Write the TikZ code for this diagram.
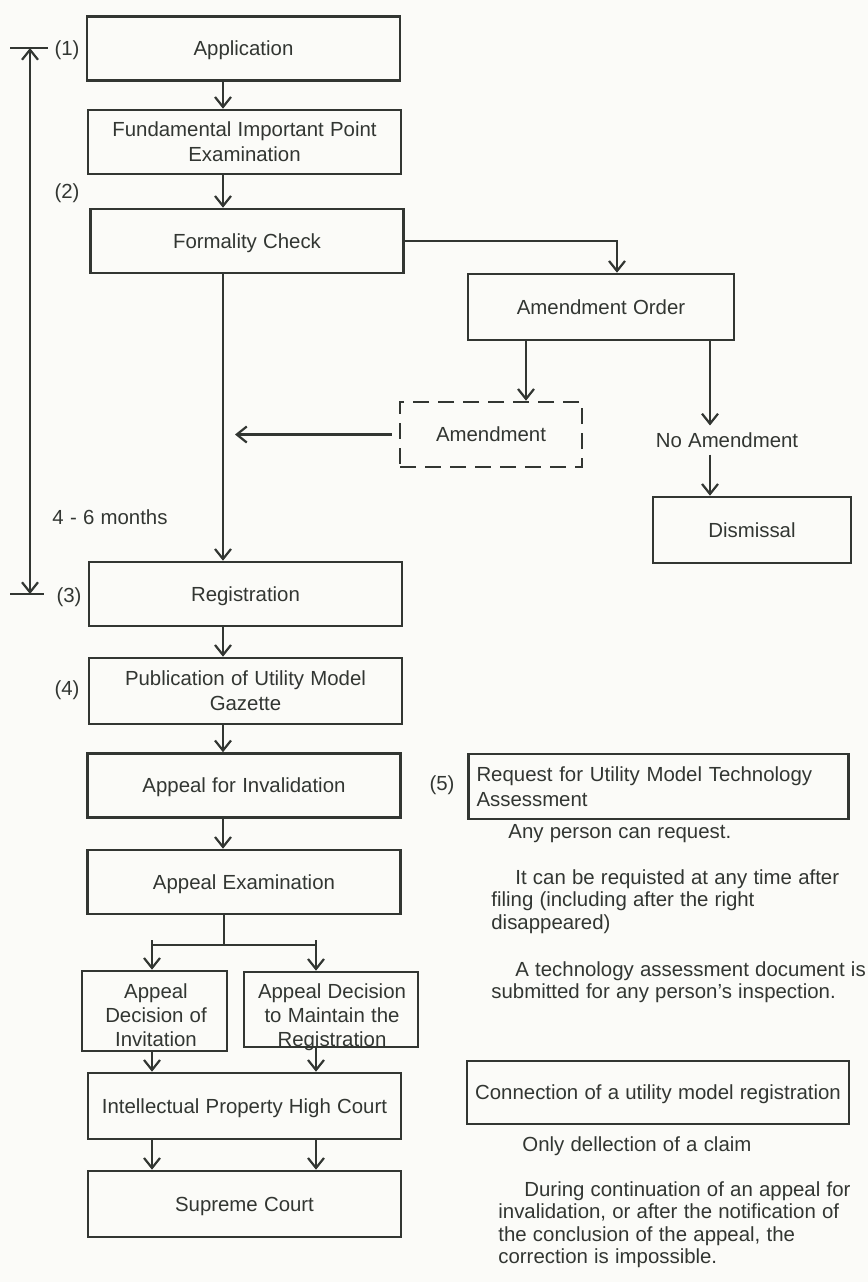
\documentclass[tikz,border=0pt]{standalone}
\usepackage{fontspec}
\setmainfont{Liberation Sans}[WordSpace=1.1]
\usetikzlibrary{arrows.meta,calc}
\definecolor{ink}{RGB}{50,54,50}
\definecolor{paper}{RGB}{251,251,248}
\tikzset{
    box/.style={draw=ink, line width=1.3pt, minimum width=156.5pt, minimum height=32pt, align=center, inner sep=2pt, text depth=0pt},
    txt/.style={text=ink, font=\fontsize{10.2}{12.5}\selectfont},
    para/.style={text=ink, font=\fontsize{10.2}{11.3}\selectfont, align=left, inner sep=0pt, anchor=north west},
    lin/.style={draw=ink, line width=1.1pt},
    arr/.style={lin, -{Straight Barb[length=5pt,width=8pt]}},
  }
\begin{document}
\begin{tikzpicture}[x=0.5pt,y=-0.5pt,every node/.style={txt}]
	%PAGE
	\fill[paper] (0,0) rectangle (868,1282);
	\useasboundingbox (0,0) rectangle (868,1282);
	%MAIN COLUMN
	\node[box] (app) at (243.5,48.5) {Application};
	\node[box] (fund) at (244.5,142) {Fundamental Important Point\\Examination};
	\node[box] (form) at (247,241) {Formality Check};
	\node[box] (reg) at (245.5,594) {Registration};
	\node[box, minimum height=33pt] (pub) at (245.5,691) {Publication of Utility Model\\Gazette};
	\node[box] (inval) at (244,785.5) {Appeal for Invalidation};
	\node[box] (exam) at (244,882) {Appeal Examination};
	\node[box, minimum width=72.5pt, minimum height=40pt] (inv) at (154.5,1011) {};
	\node[align=center, font=\fontsize{10.2}{12}\selectfont] (invtext) at (156,1015) {Appeal\\Decision of\\Invitation};
	\node[box, minimum width=87pt, minimum height=37.5pt] (maint) at (331,1009.5) {};
	\node[align=center, font=\fontsize{10.2}{12}\selectfont] (mainttext) at (332,1017) {Appeal Decision\\to Maintain the\\Registration};
	\node[box, minimum height=33pt] (court) at (244.5,1106) {Intellectual Property High Court};
	\node[box, minimum height=33pt] (sup) at (244.5,1204) {Supreme Court};
	%AMENDMENT BRANCH
	\node[box, minimum width=133pt, minimum height=33pt] (order) at (601,307) {Amendment Order};
	\node[box, dash pattern=on 8pt off 4.5pt, minimum width=91pt, minimum height=32.5pt] (amend) at (491,434.5) {Amendment};
	\node (noamend) at (727,440) {No Amendment};
	\node[box, minimum width=99pt, minimum height=33pt] (dism) at (752,530) {Dismissal};
	%RIGHT COLUMN
	\node[box, text depth={}, minimum height=32.5pt, text width=182pt, align=left, inner xsep=4pt] (req) at (658.5,786.5) {Request for Utility Model Technology\\Assessment};
	\node[box, minimum width=191pt, minimum height=31.5pt] (conn) at (658,1092.5) {Connection of a utility model registration};
	\node[para] (any) at (508,824) {Any person can request.};
	\node[para] (p1) at (491,869) {\hspace*{12pt}It can be requisted at any time after\\filing (including after the right\\disappeared)};
	\node[para] (p2) at (491,961) {\hspace*{12pt}A technology assessment document is\\submitted for any person's inspection.};
	\node[para] (only) at (522,1136) {Only dellection of a claim};
	\node[para] (p3) at (498,1181) {\hspace*{13pt}During continuation of an appeal for\\invalidation, or after the notification of\\the conclusion of the appeal, the\\correction is impossible.};
	%STEP NUMBERS
	\node (n1) at (67,50) {(1)};
	\node (n2) at (67,193) {(2)};
	\node (n3) at (69,597) {(3)};
	\node (n4) at (67,690) {(4)};
	\node (n5) at (442,785) {(5)};
	\node (months) at (110,517) {4 - 6 months};
	%PERIOD BRACKET
	\coordinate (top) at (30,48);
	\coordinate (bot) at (30,594);
	\draw[lin, {Straight Barb[length=5pt,width=8pt]}-{Straight Barb[length=5pt,width=8pt]}] (top) -- (bot);
	\draw[lin] ($(top)+(-20,0)$) -- ($(top)+(18,0)$);
	\draw[lin] ($(bot)+(-20,0)$) -- ($(bot)+(14,0)$);
	%ARROWS
	\coordinate (spine) at (223,0);
	\coordinate (L) at (152,0);
	\coordinate (R) at (316,0);
	\coordinate (oa) at (526,0);
	\coordinate (ob) at (710,0);
	\coordinate (fork) at (224,945);
	\draw[arr] (app.south -| spine) -- (fund.north -| spine);
	\draw[arr] (fund.south -| spine) -- (form.north -| spine);
	\draw[arr] (form.south -| spine) -- (reg.north -| spine);
	\draw[arr] (form.east) -| ([xshift=8pt]order.north);
	\draw[arr] (order.south -| oa) -- (amend.north -| oa);
	\draw[arr] (order.south -| ob) -- (noamend.north -| ob);
	\draw[arr] (noamend.south -| ob) -- (dism.north -| ob);
	\draw[arr] ([xshift=-3.5pt]amend.west) -- ($(amend.west -| spine)+(12,0)$);
	\draw[arr] (reg.south -| spine) -- (pub.north -| spine);
	\draw[arr] (pub.south -| spine) -- (inval.north -| spine);
	\draw[arr] (inval.south -| spine) -- (exam.north -| spine);
	\draw[lin] (exam.south -| fork) -- (fork);
	\draw[lin] (fork -| L) -- (fork -| R);
	\draw[arr] ($(fork -| L)+(0,-5)$) -- (inv.north -| L);
	\draw[arr] ($(fork -| R)+(0,-5)$) -- (maint.north -| R);
	\draw[arr] (inv.south -| L) -- (court.north -| L);
	\draw[arr] (maint.south -| R) -- (court.north -| R);
	\draw[arr] (court.south -| L) -- (sup.north -| L);
	\draw[arr] (court.south -| R) -- (sup.north -| R);
\end{tikzpicture}
\end{document}
